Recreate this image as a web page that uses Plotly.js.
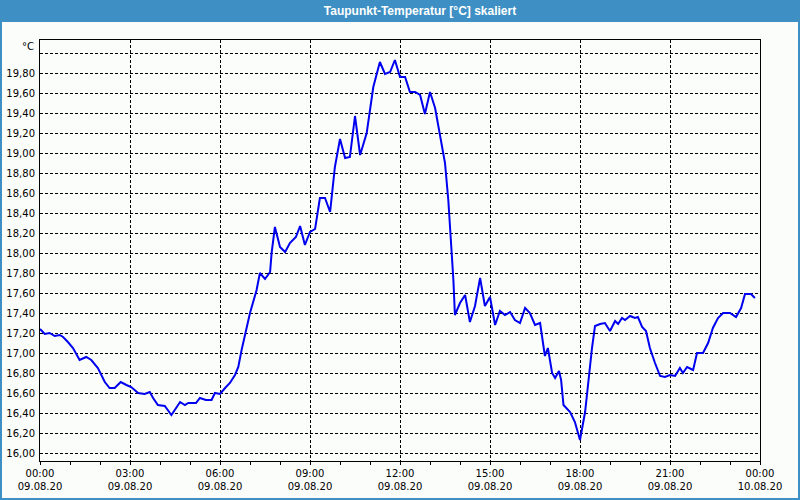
<!DOCTYPE html>
<html>
<head>
<meta charset="utf-8">
<script src="https://cdn.plot.ly/plotly-3.0.1.min.js"></script>
<style>
html,body{margin:0;padding:0;background:#fbfdfb;}
#chart{width:800px;height:500px;}
</style>
</head>
<body>
<div id="chart"></div>
<script>
// Hours since 09.08.20 00:00
const hours = [0, 0.16, 0.32, 0.49, 0.66, 0.77, 0.93, 1.1, 1.32, 1.54, 1.71, 1.93, 2.16, 2.32, 2.49, 2.69, 2.88, 3.04, 3.27, 3.49, 3.66, 3.77, 3.93, 4.16, 4.38, 4.67, 4.83, 4.94, 5.2, 5.33, 5.53, 5.72, 5.83, 6.0, 6.17, 6.33, 6.5, 6.61, 6.72, 7.0, 7.22, 7.33, 7.5, 7.67, 7.72, 7.83, 8.0, 8.17, 8.33, 8.53, 8.67, 8.83, 9.0, 9.17, 9.33, 9.5, 9.67, 9.83, 10.0, 10.17, 10.33, 10.5, 10.67, 10.89, 11.11, 11.33, 11.5, 11.67, 11.83, 12.0, 12.17, 12.33, 12.5, 12.67, 12.83, 13.0, 13.17, 13.33, 13.5, 13.61, 13.72, 13.78, 13.83, 14.0, 14.17, 14.33, 14.5, 14.67, 14.83, 15.0, 15.17, 15.33, 15.5, 15.67, 15.83, 16.0, 16.17, 16.33, 16.5, 16.67, 16.83, 16.93, 17.07, 17.17, 17.3, 17.37, 17.45, 17.67, 17.83, 18.0, 18.17, 18.28, 18.4, 18.5, 18.67, 18.83, 19.0, 19.17, 19.27, 19.4, 19.5, 19.67, 19.83, 19.93, 20.07, 20.2, 20.33, 20.5, 20.67, 20.83, 21.0, 21.17, 21.33, 21.43, 21.57, 21.77, 21.9, 22.1, 22.27, 22.43, 22.6, 22.77, 23.0, 23.2, 23.37, 23.5, 23.7, 23.83];
const dewpoint = [17.24, 17.19, 17.20, 17.17, 17.18, 17.16, 17.11, 17.05, 16.93, 16.96, 16.93, 16.85, 16.71, 16.65, 16.65, 16.71, 16.68, 16.66, 16.60, 16.59, 16.61, 16.55, 16.48, 16.47, 16.38, 16.51, 16.48, 16.50, 16.50, 16.55, 16.53, 16.53, 16.60, 16.59, 16.65, 16.70, 16.78, 16.86, 17.03, 17.40, 17.63, 17.80, 17.74, 17.81, 18.00, 18.26, 18.06, 18.01, 18.10, 18.16, 18.27, 18.08, 18.21, 18.24, 18.55, 18.55, 18.41, 18.86, 19.14, 18.95, 18.96, 19.37, 18.98, 19.20, 19.66, 19.91, 19.79, 19.81, 19.93, 19.76, 19.76, 19.61, 19.61, 19.58, 19.39, 19.61, 19.45, 19.20, 18.90, 18.53, 18.03, 17.73, 17.38, 17.50, 17.58, 17.31, 17.47, 17.75, 17.47, 17.56, 17.28, 17.42, 17.38, 17.41, 17.33, 17.30, 17.45, 17.40, 17.28, 17.30, 16.97, 17.05, 16.80, 16.75, 16.82, 16.73, 16.48, 16.41, 16.31, 16.13, 16.41, 16.73, 17.05, 17.27, 17.29, 17.30, 17.22, 17.32, 17.29, 17.35, 17.33, 17.37, 17.35, 17.36, 17.26, 17.22, 17.05, 16.90, 16.77, 16.76, 16.78, 16.77, 16.85, 16.80, 16.86, 16.83, 17.00, 17.00, 17.10, 17.25, 17.35, 17.40, 17.40, 17.36, 17.45, 17.59, 17.59, 17.55];

const xTickVals = [0, 3, 6, 9, 12, 15, 18, 21, 24];
const xTickTimes = ["00:00", "03:00", "06:00", "09:00", "12:00", "15:00", "18:00", "21:00", "00:00"];
const xTickDates = ["09.08.20", "09.08.20", "09.08.20", "09.08.20", "09.08.20", "09.08.20", "09.08.20", "09.08.20", "10.08.20"];
const yTickVals = [16.0, 16.2, 16.4, 16.6, 16.8, 17.0, 17.2, 17.4, 17.6, 17.8, 18.0, 18.2, 18.4, 18.6, 18.8, 19.0, 19.2, 19.4, 19.6, 19.8, 20.0];
const titleText = "Taupunkt-Temperatur [°C] skaliert";
const unitText = "°C";

const yTickText = yTickVals.map((v, i) => i === yTickVals.length - 1 ? "" : v.toFixed(2).replace(".", ","));
const xTickText = xTickTimes.map((t, i) => t + "<br>" + xTickDates[i]);

const L = 40, R = 40, T = 40, B = 39, W = 800, H = 500;
const pw = W - L - R, ph = H - T - B;
const blue = "#3d8fc4";

const trace = {
  x: hours, y: dewpoint, type: "scatter", mode: "lines",
  line: {color: "#0000f0", width: 2}, hoverinfo: "skip"
};

const layout = {
  width: W, height: H,
  margin: {l: L, r: R, t: T, b: B, pad: 0},
  paper_bgcolor: "#fbfdfb", plot_bgcolor: "#fbfdfb",
  showlegend: false,
  separators: ",.",
  font: {family: "DejaVu Sans, sans-serif", size: 10, color: "#000"},
  title: {
    text: titleText,
    font: {family: "Liberation Sans, Arial, sans-serif", size: 12, color: "#ffffff", weight: "bold"},
    x: (420 - L) / pw, xref: "paper", xanchor: "center",
    y: 1 - 10.5 / H, yref: "container", yanchor: "middle"
  },
  xaxis: {
    range: [0, 24], tickmode: "array", tickvals: xTickVals, ticktext: xTickText,
    showgrid: true, gridcolor: "#000", gridwidth: 1, griddash: "3px,2px",
    showline: true, linecolor: "#000", linewidth: 1, mirror: true,
    zeroline: false, ticks: "outside", ticklen: 3, tickcolor: "#000",
    minor: {dtick: 1, tick0: 0, ticks: "outside", ticklen: 3, tickcolor: "#000", showgrid: false},
    tickfont: {family: "DejaVu Sans, sans-serif", size: 10, color: "#000"},
    fixedrange: true
  },
  yaxis: {
    range: [15.92, 20.13], tickmode: "array", tickvals: yTickVals, ticktext: yTickText,
    showgrid: true, gridcolor: "#000", gridwidth: 1, griddash: "3px,2px",
    showline: true, linecolor: "#000", linewidth: 1, mirror: true,
    zeroline: false, ticks: "", ticklabelstandoff: 2,
    tickfont: {family: "DejaVu Sans, sans-serif", size: 10, color: "#000"},
    fixedrange: true
  },
  shapes: [
    {type: "rect", xref: "paper", yref: "paper", layer: "below",
     x0: -L / pw, x1: 1 + R / pw, y0: 1 + (T - 21) / ph, y1: 1 + T / ph,
     fillcolor: blue, line: {width: 0}},
    {type: "rect", xref: "paper", yref: "paper", layer: "below",
     x0: -(L - 1) / pw, x1: 1 + (R - 1) / pw, y0: -(B - 1) / ph, y1: 1 + (T - 21) / ph,
     fillcolor: "rgba(0,0,0,0)", line: {color: blue, width: 2}}
  ],
  annotations: [
    {text: unitText, xref: "paper", yref: "paper", x: -4 / pw, y: 1 - 6 / ph,
     xanchor: "right", yanchor: "middle", showarrow: false,
     font: {family: "DejaVu Sans, sans-serif", size: 10, color: "#000"}}
  ]
};

Plotly.newPlot("chart", [trace], layout, {displayModeBar: false, staticPlot: true});
</script>
</body>
</html>
